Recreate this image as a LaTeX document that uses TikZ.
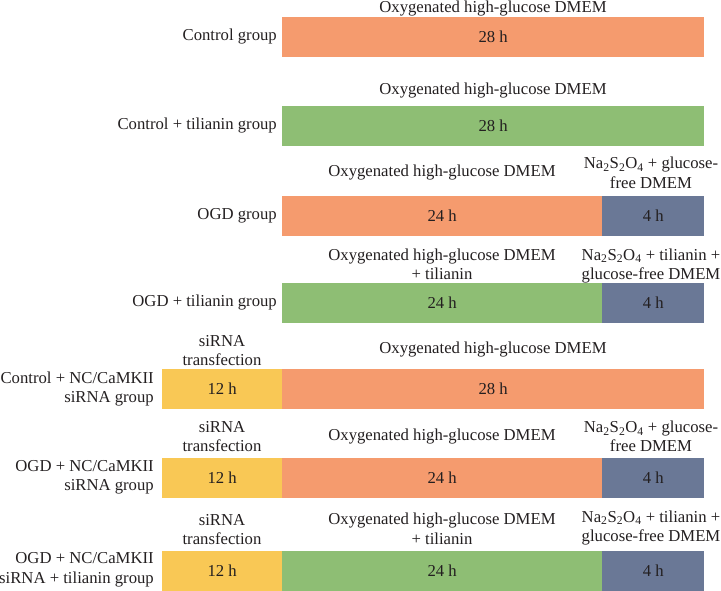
\documentclass[tikz,border=0pt]{standalone}
\usepackage{fontspec}
\setmainfont{Liberation Serif}
\definecolor{orangeC}{RGB}{245,155,110}
\definecolor{greenC}{RGB}{142,190,116}
\definecolor{blueC}{RGB}{106,120,150}
\definecolor{yellowC}{RGB}{249,200,85}
\definecolor{txtC}{RGB}{35,31,32}
\newcommand{\nass}{Na\textsubscript{2}S\textsubscript{2}O\textsubscript{4}}
\begin{document}
\begin{tikzpicture}[x={(1pt,0)}, y={(0,-1pt)},
  every node/.style={text=txtC},
  bar/.style={draw=none, inner sep=0, minimum height=40pt, anchor=west,
    font=\fontsize{16.7}{19.5}\selectfont},
  txt/.style={align=center, inner sep=0, font=\fontsize{16.7}{19.5}\selectfont},
  lbl/.style={align=right, inner sep=0, anchor=east, font=\fontsize{16.7}{19.5}\selectfont}]
\useasboundingbox (0,0) rectangle (721,590);
% Row 1
\node[lbl] (l1) at (277,37) {Control group};
\node[bar, fill=orangeC, minimum width=422pt] (b1a) at (282,37) {28 h};
\node[txt] (t1a) at (493,9) {Oxygenated high-glucose DMEM};
% Row 2
\node[lbl] (l2) at (277,125.5) {Control + tilianin group};
\node[bar, fill=greenC, minimum width=422pt] (b2a) at (282,125.5) {28 h};
\node[txt] (t2a) at (493,91) {Oxygenated high-glucose DMEM};
% Row 3
\node[lbl] (l3) at (277,215.5) {OGD group};
\node[bar, fill=orangeC, minimum width=320pt] (b3a) at (282,215.5) {24 h};
\node[bar, fill=blueC, minimum width=102pt] (b3b) at (602,215.5) {4 h};
\node[txt] (t3a) at (442,173) {Oxygenated high-glucose DMEM};
\node[txt] (t3b) at (651,173) {\nass{} + glucose-\\free DMEM};
% Row 4
\node[lbl] (l4) at (277,303) {OGD + tilianin group};
\node[bar, fill=greenC, minimum width=320pt] (b4a) at (282,303) {24 h};
\node[bar, fill=blueC, minimum width=102pt] (b4b) at (602,303) {4 h};
\node[txt] (t4a) at (442,264.5) {Oxygenated high-glucose DMEM\\+ tilianin};
\node[txt] (t4b) at (651,266) {\nass{} + tilianin +\\glucose-free DMEM};
% Row 5
\node[lbl] (l5) at (154,389) {Control + NC/CaMKII\\siRNA group};
\node[bar, fill=yellowC, minimum width=120pt] (b5a) at (162,389) {12 h};
\node[bar, fill=orangeC, minimum width=422pt] (b5b) at (282,389) {28 h};
\node[txt] (t5a) at (222,350.5) {siRNA\\transfection};
\node[txt] (t5b) at (493,350) {Oxygenated high-glucose DMEM};
% Row 6
\node[lbl] (l6) at (154,477.5) {OGD + NC/CaMKII\\siRNA group};
\node[bar, fill=yellowC, minimum width=120pt] (b6a) at (162,477.5) {12 h};
\node[bar, fill=orangeC, minimum width=320pt] (b6b) at (282,477.5) {24 h};
\node[bar, fill=blueC, minimum width=102pt] (b6c) at (602,477.5) {4 h};
\node[txt] (t6a) at (222,436.5) {siRNA\\transfection};
\node[txt] (t6b) at (442,437) {Oxygenated high-glucose DMEM};
\node[txt] (t6c) at (651,436.5) {\nass{} + glucose-\\free DMEM};
% Row 7
\node[lbl] (l7) at (154,570) {OGD + NC/CaMKII\\siRNA + tilianin group};
\node[bar, fill=yellowC, minimum width=120pt] (b7a) at (162,570.5) {12 h};
\node[bar, fill=greenC, minimum width=320pt] (b7b) at (282,570.5) {24 h};
\node[bar, fill=blueC, minimum width=102pt] (b7c) at (602,570.5) {4 h};
\node[txt] (t7a) at (222,529.5) {siRNA\\transfection};
\node[txt] (t7b) at (442,529) {Oxygenated high-glucose DMEM\\+ tilianin};
\node[txt] (t7c) at (651,528) {\nass{} + tilianin +\\glucose-free DMEM};
\end{tikzpicture}
\end{document}
